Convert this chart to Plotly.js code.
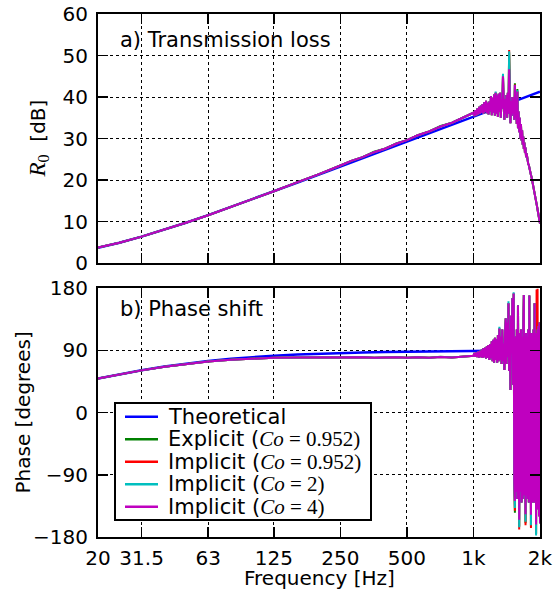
<!DOCTYPE html>
<html>
<head>
<meta charset="utf-8">
<script src="https://cdn.plot.ly/plotly-3.0.1.min.js"></script>
<style>
html,body{margin:0;padding:0;background:#fff;}
#chart{width:558px;height:597px;}
</style>
</head>
<body>
<div id="chart"></div>
<script>
// ---------------- DATA ----------------
const xTickVals = [20, 31.5, 63, 125, 250, 500, 1000, 2000];
const xTickText = ['20', '31.5', '63', '125', '250', '500', '1k', '2k'];

const freqTheo = [20,25,31.5,40,50,63,80,100,125,160,200,250,315,400,500,630,800,1000,1250,1600,2000];
const tlTheo = [3.69,4.90,6.35,8.03,9.71,11.54,13.50,15.37,17.26,19.37,21.29,23.22,25.22,27.29,29.22,31.23,33.30,35.24,37.18,39.32,41.26];
const phTheo = [49.1,55.3,61.2,66.6,70.9,74.6,77.8,80.2,82.1,83.8,85.1,86.0,86.9,87.5,88.0,88.4,88.8,89.0,89.2,89.4,89.5];

const freqNum = [20,25,31.5,40,50,63,80,100,125,160,200,250,280,315,355,400,450,500,560,630,710,800,900,
 1000,1010,1020,1030,1040,1050,1060,1070,1080,1090,
 1100,1110,1120,1130,1140,1150,1160,1170,1180,1190,
 1200,1210,1220,1230,1240,1250,1260,1270,1280,1290,
 1300,1310,1320,1330,1340,1350,1360,1370,1380,1390,
 1400,1410,1420,1430,1440,1450,1460,1470,1480,1490,
 1500,1510,1520,1530,1540,1550,1560,1570,1580,1590,
 1600,1610,1620,1630,1640,1650,1660,1670,1680,1690,
 1700,1710,1720,1730,1740,1750,1760,1770,1780,1790,
 1800,1810,1820,1830,1840,1850,1860,1870,1880,1890,
 1900,1910,1920,1930,1940,1950,1960,1970,1980,1990,
 2000];

// Transmission loss, numerical
const tlExp095 = [3.7,4.9,6.35,8.0,9.7,11.5,13.5,15.4,17.3,19.5,21.4,23.5,24.6,25.5,26.8,27.6,28.9,29.6,30.8,31.7,33.0,33.8,35.1,
 36.2,35.4,36.8,35.6,37.2,35.8,37.6,36.0,37.9,36.2,
 38.3,36.0,38.8,36.4,39.1,36.1,38.6,35.8,38.9,36.5,
 40.2,35.6,39.8,36.2,40.6,35.5,41.0,36.0,40.4,35.2,
 40.8,36.4,41.0,35.0,39.5,37.2,45.3,38.5,34.5,39.5,
 36.0,40.5,35.0,41.0,36.0,50.8,38.0,33.7,39.0,35.5,
 40.0,36.0,39.5,34.5,43.3,35.0,38.0,33.5,41.9,32.5,
 36.5,31.5,35.0,30.0,33.5,29.5,32.0,28.5,30.5,27.5,
 29.0,26.5,27.8,25.5,26.4,24.8,25.0,23.8,23.6,22.8,
 22.4,21.8,21.2,20.8,20.2,19.6,19.0,18.3,17.6,17.0,
 16.3,15.6,14.9,14.2,13.6,12.9,12.2,11.5,10.8,10.1,
 9.5];
const tlImp095 = [3.7,4.9,6.35,8.0,9.7,11.5,13.5,15.4,17.3,19.5,21.4,23.5,24.6,25.5,26.7,27.6,28.8,29.6,30.8,31.7,32.9,33.8,35.1,
 36.2,35.4,36.8,35.6,37.2,35.8,37.6,36.0,37.9,36.2,
 38.3,36.0,38.8,36.4,39.1,36.1,38.6,35.8,38.9,36.5,
 40.2,35.6,39.8,36.2,40.6,35.5,41.0,36.0,40.4,35.2,
 40.8,36.4,41.0,35.0,39.5,37.2,45.2,38.5,34.5,39.5,
 36.0,40.5,35.0,41.0,36.0,51.3,38.0,33.7,39.0,35.5,
 40.0,36.0,39.5,34.5,43.0,35.0,38.0,33.5,41.3,32.5,
 36.5,31.5,35.0,30.0,33.5,29.5,32.0,28.5,30.5,27.5,
 29.0,26.5,27.8,25.5,26.4,24.8,25.0,23.8,23.6,22.8,
 22.4,21.8,21.2,20.8,20.2,19.6,19.0,18.3,17.6,17.0,
 16.3,15.6,14.9,14.2,13.6,12.9,12.2,11.5,10.8,10.1,
 9.5];
const tlImp2 = [3.7,4.9,6.35,8.0,9.7,11.5,13.5,15.4,17.3,19.5,21.4,23.5,24.6,25.5,26.7,27.6,28.8,29.6,30.8,31.7,32.9,33.8,35.1,
 36.2,35.4,36.8,35.6,37.2,35.8,37.6,36.0,37.9,36.2,
 38.3,36.0,38.8,36.4,39.1,36.1,38.6,35.8,38.9,36.5,
 40.2,35.6,39.8,36.2,40.6,35.5,41.3,36.0,40.4,35.2,
 40.8,36.4,41.0,35.0,39.5,37.2,45.6,38.5,34.5,39.5,
 36.0,40.5,35.0,41.0,36.0,51.0,38.0,33.7,39.0,35.5,
 40.0,36.0,39.5,34.5,42.9,35.0,38.0,33.5,41.6,32.5,
 36.5,31.5,35.0,30.0,33.5,29.5,32.0,28.5,30.5,27.5,
 29.0,26.5,27.8,25.5,26.4,24.8,25.0,23.8,23.6,22.8,
 22.4,21.8,21.2,20.8,20.2,19.6,19.0,18.3,17.6,17.0,
 16.3,15.6,14.9,14.2,13.6,12.9,12.2,11.5,10.8,10.1,
 9.5];
const tlImp4 = [3.7,4.9,6.35,8.0,9.7,11.5,13.5,15.4,17.3,19.5,21.4,23.5,24.6,25.5,26.7,27.6,28.8,29.6,30.8,31.7,32.9,33.8,35.1,
 36.2,35.4,36.8,35.6,37.2,35.8,37.6,36.0,37.9,36.2,
 38.3,36.0,38.8,36.4,39.1,36.1,38.6,35.8,38.9,36.5,
 40.2,35.6,39.8,36.2,40.6,35.5,41.0,36.0,40.4,35.2,
 40.8,36.4,41.0,35.0,39.5,37.2,45.0,38.5,34.5,39.5,
 36.0,40.5,35.0,41.0,36.0,46.7,38.0,33.7,39.0,35.5,
 40.0,36.0,39.5,34.5,42.9,35.0,38.0,33.5,41.3,32.5,
 36.5,31.5,35.0,30.0,33.5,29.5,32.0,28.5,30.5,27.5,
 29.0,26.5,27.8,25.5,26.4,24.8,25.0,23.8,23.6,22.8,
 22.4,21.8,21.2,20.8,20.2,19.6,19.0,18.3,17.6,17.0,
 16.3,15.6,14.9,14.2,13.6,12.9,12.2,11.5,10.8,10.1,
 9.5];

// Phase shift, numerical
const phExp095 = [49.0,55.0,60.9,66.3,70.4,73.8,76.3,78.0,79.2,79.6,79.9,80.0,79.4,79.8,79.2,79.6,80.0,79.2,79.8,79.0,80.6,79.6,81.4,
 82,86,80.5,87,80,88,79.5,89,80,91,
 79,93,80,94,78,96,79,97.6,76,99,
 78,103,74,105,72,108,76,106,72,112,
 74,121.5,76,110,70,120,74,100,61.4,118,
 136,70,130,80,158,60,120,32.5,140,90,
 165,40,172,-100,-145,110,-115,120,-125,155,
 -120,-165,115,-115,120,-130,110,-125,120,170,
 -120,110,-160,115,-120,110,-125,120,-130,169,
 -120,110,-165,115,-125,110,-130,120,-125,158,
 -130,115,-176,110,-135,120,-140,125,-150,130,
 -160];
const phImp095 = [49.0,55.0,60.9,66.3,70.4,73.8,76.3,78.0,79.2,79.6,79.9,80.0,79.4,79.8,79.2,79.6,80.0,79.2,79.8,79.0,80.2,79.6,81.0,
 82,86,80.5,87,80,88,79.5,89,80,91,
 79,93,80,94,78,96,79,97.6,76,99,
 78,103,74,105,72,108,76,106,72,112,
 74,121.5,76,110,70,120,74,100,61.4,118,
 136,70,130,80,158,60,120,32.5,140,90,
 165,40,172,-100,-142,110,-115,120,-125,155,
 -120,-169,115,-115,120,-130,110,-125,120,170,
 -120,110,-163,115,-120,110,-125,120,-130,169,
 -120,110,-167,115,-125,110,-130,120,-125,158,
 -130,115,-175,178,-135,179,-140,125,-150,130,
 -160];
const phImp2 = [49.0,55.0,60.9,66.3,70.4,73.8,76.3,78.0,79.2,79.6,79.9,80.0,79.4,79.8,79.2,79.6,80.0,79.2,79.8,79.0,80.2,79.6,81.0,
 82,86,80.5,87,80,88,79.5,89,80,91,
 79,93,80,94,78,96,79,97.6,76,99,
 78,103,74,105,72,108,76,106,72,112,
 74,124,76,110,70,120,74,100,61.4,118,
 136,70,130,80,161,60,120,32.5,140,90,
 165,40,174,-100,-138,110,-115,120,-125,155,
 -120,-166,115,-115,120,-130,110,-125,120,170,
 -120,110,-158,115,-120,110,-125,120,-130,169,
 -120,110,-163,115,-125,110,-130,120,-125,158,
 -130,115,-178,110,-135,120,-140,125,-150,130,
 -160];
const phImp4 = [49.0,55.0,60.9,66.3,70.4,73.8,76.3,78.0,79.2,79.6,79.9,80.0,79.4,79.8,79.2,79.6,80.0,79.2,79.8,79.0,80.2,79.6,81.0,
 82,86,80.5,87,80,88,79.5,89,80,91,
 79,93,80,94,78,96,79,97.6,76,99,
 78,103,74,105,72,108,76,106,72,112,
 74,121.5,76,110,70,120,74,100,61.4,118,
 136,70,130,80,158,60,120,32.5,140,90,
 165,40,172,-100,-128,110,-115,120,-125,155,
 -120,-155,115,-115,120,-130,110,-125,120,170,
 -120,110,-147,115,-120,110,-125,120,-130,169,
 -120,110,-148,115,-125,110,-130,120,-125,158,
 -130,115,-162,110,-135,120,-140,125,-150,130,
 -160];

const MATH = 'font-family:Liberation Serif';
const seriesNames = [
  'Theoretical',
  'Explicit (<span style="' + MATH + '"><i>Co</i> = 0.952)</span>',
  'Implicit (<span style="' + MATH + '"><i>Co</i> = 0.952)</span>',
  'Implicit (<span style="' + MATH + '"><i>Co</i> = 2)</span>',
  'Implicit (<span style="' + MATH + '"><i>Co</i> = 4)</span>'
];
const seriesColors = ['#0000ff', '#008000', '#ff0000', '#00bfbf', '#bf00bf'];

// ---------------- TRACES ----------------
const tlSets = [tlExp095, tlImp095, tlImp2, tlImp4];
const phSets = [phExp095, phImp095, phImp2, phImp4];
const traces = [];
traces.push({x: freqTheo, y: tlTheo, xaxis: 'x', yaxis: 'y', mode: 'lines', name: seriesNames[0],
  line: {color: seriesColors[0], width: 2.5}, showlegend: false});
for (let i = 0; i < 4; i++) {
  traces.push({x: freqNum, y: tlSets[i], xaxis: 'x', yaxis: 'y', mode: 'lines', name: seriesNames[i+1],
    line: {color: seriesColors[i+1], width: 2}, showlegend: false});
}
traces.push({x: freqTheo, y: phTheo, xaxis: 'x2', yaxis: 'y2', mode: 'lines', name: seriesNames[0],
  line: {color: seriesColors[0], width: 2.5}, showlegend: false});
for (let i = 0; i < 4; i++) {
  traces.push({x: freqNum, y: phSets[i], xaxis: 'x2', yaxis: 'y2', mode: 'lines', name: seriesNames[i+1],
    line: {color: seriesColors[i+1], width: 2}, showlegend: false});
}

// ---------------- LAYOUT ----------------
const FONT = 'DejaVu Sans';
const W = 558, H = 597, ML = 98, MR = 18, MT = 14, MB = 60;
const PW = W - ML - MR, PH = H - MT - MB;
const px2x = p => (p - ML) / PW;          // pixel -> paper x
const px2y = p => (H - MB - p) / PH;      // pixel -> paper y

const axCommon = {
  showline: true, linecolor: 'black', linewidth: 2, mirror: 'ticks',
  ticks: 'inside', ticklen: 10, tickwidth: 1.5, tickcolor: 'black',
  showgrid: true, gridcolor: 'black', gridwidth: 1, griddash: 'dot',
  zeroline: false, tickfont: {family: FONT, size: 20, color: 'black'}
};
const xRange = [Math.log10(20), Math.log10(2000)];

// legend box (drawn inside the phase panel)
const legBox = {left: 115, right: 371, top: 403, bottom: 520};
const legRowY = [416.7, 439.2, 461.7, 484.2, 506.7];
const shapes = [{type: 'rect', xref: 'paper', yref: 'paper', layer: 'above',
  x0: px2x(legBox.left), x1: px2x(legBox.right), y0: px2y(legBox.bottom), y1: px2y(legBox.top),
  line: {color: 'black', width: 2}, fillcolor: 'white'}];
const annotations = [];
for (let i = 0; i < 5; i++) {
  shapes.push({type: 'line', xref: 'paper', yref: 'paper', layer: 'above',
    x0: px2x(125), x1: px2x(158), y0: px2y(legRowY[i]), y1: px2y(legRowY[i]),
    line: {color: seriesColors[i], width: 2.5}});
  annotations.push({text: seriesNames[i], xref: 'paper', yref: 'paper', x: px2x(166), y: px2y(legRowY[i]),
    xanchor: 'left', yanchor: 'middle', showarrow: false, font: {family: FONT, size: 21, color: 'black'}});
}
annotations.push(
  {text: 'a) Transmission loss', xref: 'paper', yref: 'paper', x: px2x(118), y: px2y(40),
    xanchor: 'left', yanchor: 'middle', showarrow: false, font: {family: FONT, size: 21, color: 'black'}},
  {text: 'b) Phase shift', xref: 'paper', yref: 'paper', x: px2x(118), y: px2y(309),
    xanchor: 'left', yanchor: 'middle', showarrow: false, font: {family: FONT, size: 21, color: 'black'}},
  {text: '<span style="' + MATH + ';font-size:23px"><i>R</i><sub>0</sub></span>\u00a0 [dB]', xref: 'paper', yref: 'paper',
    x: px2x(38), y: px2y(138.5), xanchor: 'center', yanchor: 'middle', textangle: -90, showarrow: false,
    font: {family: FONT, size: 20, color: 'black'}},
  {text: 'Phase [degrees]', xref: 'paper', yref: 'paper', x: px2x(22), y: px2y(412.5),
    xanchor: 'center', yanchor: 'middle', textangle: -90, showarrow: false,
    font: {family: FONT, size: 20, color: 'black'}},
  {text: 'Frequency [Hz]', xref: 'paper', yref: 'paper', x: 0.5, y: px2y(578),
    xanchor: 'center', yanchor: 'middle', showarrow: false,
    font: {family: FONT, size: 20, color: 'black'}}
);

const layout = {
  width: W, height: H,
  margin: {l: ML, r: MR, t: MT, b: MB},
  paper_bgcolor: 'white', plot_bgcolor: 'white',
  font: {family: FONT, size: 20, color: 'black'},
  showlegend: false,
  xaxis: Object.assign({}, axCommon, {type: 'log', range: xRange, anchor: 'y',
    tickvals: xTickVals, ticktext: xTickText, showticklabels: false}),
  yaxis: Object.assign({}, axCommon, {range: [0, 60], dtick: 10, tick0: 0, anchor: 'x',
    domain: [px2y(263), 1], ticklabelstandoff: 4}),
  xaxis2: Object.assign({}, axCommon, {type: 'log', range: xRange, anchor: 'y2', matches: 'x',
    tickvals: xTickVals, ticktext: xTickText, ticklabelstandoff: 2}),
  yaxis2: Object.assign({}, axCommon, {range: [-180, 180], tickvals: [-180, -90, 0, 90, 180], anchor: 'x2',
    domain: [0, px2y(288)], ticklabelstandoff: 4}),
  shapes: shapes,
  annotations: annotations
};

Plotly.newPlot('chart', traces, layout, {displayModeBar: false, staticPlot: true});
</script>
</body>
</html>
